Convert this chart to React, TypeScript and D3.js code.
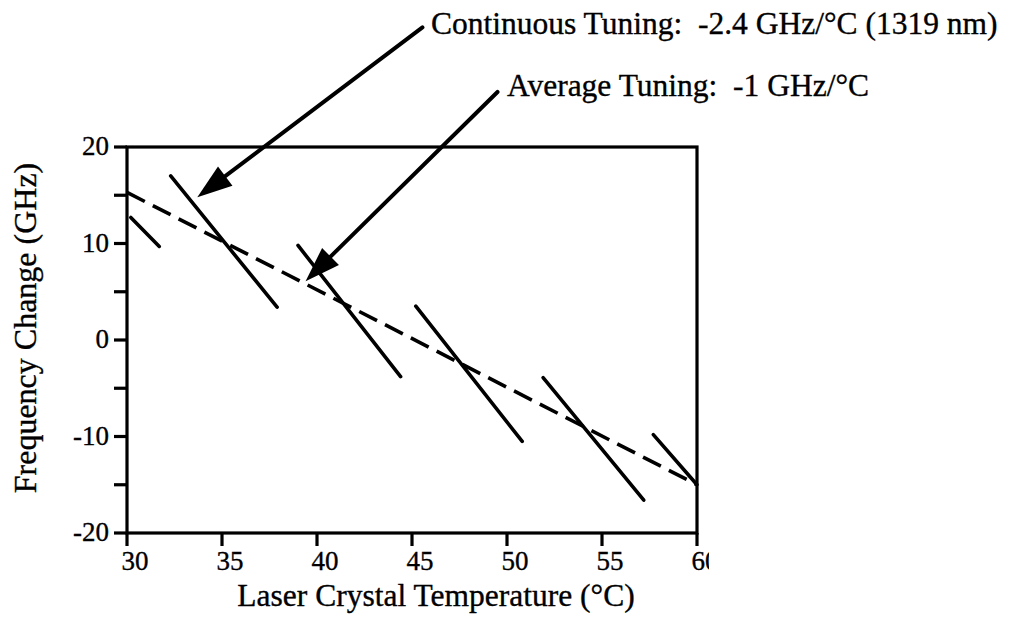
import React from "react";
import * as d3 from "d3";

// ---- data ----
const xTicks = [30, 35, 40, 45, 50, 55, 60];
const yTicks = [-20, -15, -10, -5, 0, 5, 10, 15, 20];
const yLabels = [-20, -10, 0, 10, 20];

// continuous-tuning segments [x1, y1, x2, y2] (°C, GHz)
const segX1 = [30.2, 32.3, 39.0, 45.2, 51.9, 57.7];
const segY1 = [12.7, 17.0, 9.8, 3.5, -3.9, -9.8];
const segX2 = [31.7, 37.9, 44.4, 50.8, 57.2, 60.0];
const segY2 = [9.7, 3.4, -3.8, -10.5, -16.6, -15.0];

// average tuning (dashed)
const avgX = [30, 60];
const avgY = [15.3, -15.0];

// annotation arrows: tail and tip, in data units
const annText = [
  "Continuous Tuning:  -2.4 GHz/°C (1319 nm)",
  "Average Tuning:  -1 GHz/°C",
];
const annTailX = [45.55, 49.5];
const annTailY = [32.4, 25.7];
const annTipX = [33.7, 39.4];
const annTipY = [14.8, 6.1];
const annTextX = [46.0, 50.0];
const annTextY = [31.7, 25.3];

const W = 1013;
const H = 626;
const FONT = "'Liberation Serif', 'Times New Roman', Times, serif";

export default function App() {
  const x = d3.scaleLinear().domain([30, 60]).range([127, 697]);
  const y = d3.scaleLinear().domain([-20, 20]).range([533, 147]);
  const tick = 13;

  const line = d3
    .line<[number, number]>()
    .x((d) => x(d[0]))
    .y((d) => y(d[1]));

  const avgPts: [number, number][] = avgX.map((v, i) => [v, avgY[i]]);

  const arrows = annText.map((t, i) => {
    const tx = x(annTipX[i]);
    const ty = y(annTipY[i]);
    const sx = x(annTailX[i]);
    const sy = y(annTailY[i]);
    const ang = Math.atan2(sy - ty, sx - tx);
    const L = 35;
    const hw = 12;
    const bx = tx + L * Math.cos(ang);
    const by = ty + L * Math.sin(ang);
    const px = -Math.sin(ang) * hw;
    const py = Math.cos(ang) * hw;
    return {
      t,
      sx,
      sy,
      bx,
      by,
      head: `${tx},${ty} ${bx + px},${by + py} ${bx - px},${by - py}`,
      lx: x(annTextX[i]),
      ly: y(annTextY[i]),
    };
  });

  const textStroke = { stroke: "#000", strokeWidth: 0.35 };

  return (
    <svg
      width={W}
      height={H}
      style={{ position: "absolute", left: 0, top: 0, background: "#fff" }}
      fontFamily={FONT}
    >
      <defs>
        <clipPath id="lblclip">
          <rect x={0} y={0} width={709} height={H} />
        </clipPath>
      </defs>
      <rect width={W} height={H} fill="#fff" />

      {/* frame */}
      <rect
        x={x(30)}
        y={y(20)}
        width={x(60) - x(30)}
        height={y(-20) - y(20)}
        fill="none"
        stroke="#000"
        strokeWidth={3.2}
      />

      {/* y ticks */}
      {yTicks.map((v) => (
        <line
          key={"yt" + v}
          x1={x(30) - tick}
          x2={x(30)}
          y1={y(v)}
          y2={y(v)}
          stroke="#000"
          strokeWidth={3.2}
        />
      ))}
      {yLabels.map((v) => (
        <text
          key={"yl" + v}
          x={x(30) - tick - 5}
          y={y(v)}
          dy="0.3em"
          textAnchor="end"
          fontSize={27}
          fill="#000"
          {...textStroke}
        >
          {v}
        </text>
      ))}

      {/* x ticks */}
      {xTicks.map((v) => (
        <line
          key={"xt" + v}
          x1={x(v)}
          x2={x(v)}
          y1={y(-20)}
          y2={y(-20) + tick}
          stroke="#000"
          strokeWidth={3.2}
        />
      ))}
      <g clipPath="url(#lblclip)">
        {xTicks.map((v) => (
          <text
            key={"xl" + v}
            x={x(v) + 8}
            y={570}
            textAnchor="middle"
            fontSize={27}
            fill="#000"
            {...textStroke}
          >
            {v}
          </text>
        ))}
      </g>

      {/* axis titles */}
      <text
        x={436}
        y={606}
        textAnchor="middle"
        fontSize={31.5}
        fill="#000"
        {...textStroke}
      >
        Laser Crystal Temperature (°C)
      </text>
      <text
        transform={`translate(36,328) rotate(-90)`}
        textAnchor="middle"
        fontSize={32}
        fill="#000"
        {...textStroke}
      >
        Frequency Change (GHz)
      </text>

      {/* average tuning dashed line */}
      <path
        d={line(avgPts) || ""}
        fill="none"
        stroke="#000"
        strokeWidth={3.6}
        strokeDasharray="20 9"
      />

      {/* continuous tuning segments */}
      {segX1.map((v, i) => (
        <line
          key={"s" + i}
          x1={x(v)}
          y1={y(segY1[i])}
          x2={x(segX2[i])}
          y2={y(segY2[i])}
          stroke="#000"
          strokeWidth={3.6}
          strokeLinecap="round"
        />
      ))}

      {/* annotations */}
      {arrows.map((a, i) => (
        <g key={"a" + i}>
          <line
            x1={a.sx}
            y1={a.sy}
            x2={a.bx}
            y2={a.by}
            stroke="#000"
            strokeWidth={4}
            strokeLinecap="round"
          />
          <polygon points={a.head} fill="#000" />
          <text
            x={a.lx}
            y={a.ly}
            fontSize={31.5}
            fill="#000"
            style={{ whiteSpace: "pre" }}
            {...textStroke}
          >
            {a.t}
          </text>
        </g>
      ))}
    </svg>
  );
}
